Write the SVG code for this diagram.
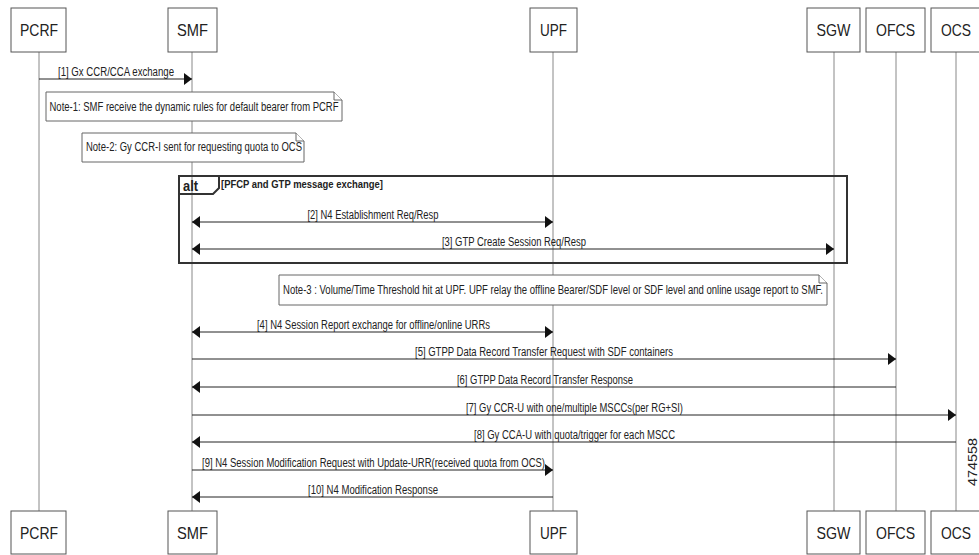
<svg xmlns="http://www.w3.org/2000/svg" width="979" height="555" viewBox="0 0 979 555">
<style>
.box{fill:#fff;stroke:#555;stroke-width:1}
.life{stroke:#888;stroke-width:1}
.hdr{font-family:"Liberation Sans Narrow","Liberation Sans",Arial,sans-serif;font-size:17px;fill:#222;text-anchor:middle}
.lbl{font-family:"Liberation Sans Narrow","Liberation Sans",Arial,sans-serif;font-size:12px;fill:#222;text-anchor:middle}
.note{fill:#fff;stroke:#666;stroke-width:1}
.msg{stroke:#222;stroke-width:1;fill:none}
.alt{fill:none;stroke:#333;stroke-width:2}
.altt{font-family:"Liberation Sans Narrow","Liberation Sans",Arial,sans-serif;font-weight:bold;fill:#222}
</style>
<defs>
<marker id="ah" markerUnits="userSpaceOnUse" markerWidth="8" markerHeight="12" refX="8" refY="6" orient="auto-start-reverse">
<path d="M0,0 L8,6 L0,12 z" fill="#111"/>
</marker>
</defs>
<rect width="979" height="555" fill="#fff"/>

<g id="lifelines">
<line class="life" x1="39" y1="52" x2="39" y2="511"/>
<line class="life" x1="192" y1="52" x2="192" y2="511"/>
<line class="life" x1="553" y1="52" x2="553" y2="511"/>
<line class="life" x1="834" y1="52" x2="834" y2="511"/>
<line class="life" x1="896" y1="52" x2="896" y2="511"/>
<line class="life" x1="956" y1="52" x2="956" y2="511"/>
</g>

<g id="PCRF">
<rect class="box" x="11" y="8" width="55" height="44"/><text class="hdr" x="39" y="36" textLength="38" lengthAdjust="spacingAndGlyphs">PCRF</text>
<rect class="box" x="11" y="511" width="55" height="43"/><text class="hdr" x="39" y="539" textLength="38" lengthAdjust="spacingAndGlyphs">PCRF</text>
</g>
<g id="SMF">
<rect class="box" x="168" y="8" width="49" height="44"/><text class="hdr" x="192.5" y="36" textLength="31" lengthAdjust="spacingAndGlyphs">SMF</text>
<rect class="box" x="168" y="511" width="49" height="43"/><text class="hdr" x="192.5" y="539" textLength="31" lengthAdjust="spacingAndGlyphs">SMF</text>
</g>
<g id="UPF">
<rect class="box" x="530" y="8" width="47" height="44"/><text class="hdr" x="553.5" y="36" textLength="27" lengthAdjust="spacingAndGlyphs">UPF</text>
<rect class="box" x="530" y="511" width="47" height="43"/><text class="hdr" x="553.5" y="539" textLength="27" lengthAdjust="spacingAndGlyphs">UPF</text>
</g>
<g id="SGW">
<rect class="box" x="807" y="8" width="53" height="44"/><text class="hdr" x="833.5" y="36" textLength="34" lengthAdjust="spacingAndGlyphs">SGW</text>
<rect class="box" x="807" y="511" width="53" height="43"/><text class="hdr" x="833.5" y="539" textLength="34" lengthAdjust="spacingAndGlyphs">SGW</text>
</g>
<g id="OFCS">
<rect class="box" x="866" y="8" width="59" height="44"/><text class="hdr" x="895.5" y="36" textLength="39" lengthAdjust="spacingAndGlyphs">OFCS</text>
<rect class="box" x="866" y="511" width="59" height="43"/><text class="hdr" x="895.5" y="539" textLength="39" lengthAdjust="spacingAndGlyphs">OFCS</text>
</g>
<g id="OCS">
<rect class="box" x="931" y="8" width="50" height="44"/><text class="hdr" x="956" y="36" textLength="30" lengthAdjust="spacingAndGlyphs">OCS</text>
<rect class="box" x="931" y="511" width="50" height="43"/><text class="hdr" x="956" y="539" textLength="30" lengthAdjust="spacingAndGlyphs">OCS</text>
</g>

<g id="note1">
<path class="note" d="M46,92 H334 L342,100 V121 H46 Z"/><path class="note" d="M334,92 V100 H342" fill="none"/>
<text class="lbl" x="194" y="111" textLength="289" lengthAdjust="spacingAndGlyphs">Note-1: SMF receive the dynamic rules for default bearer from PCRF</text>
</g>
<g id="note2">
<path class="note" d="M82,133 H296 L304,141 V162 H82 Z"/><path class="note" d="M296,133 V141 H304" fill="none"/>
<text class="lbl" x="194" y="151" textLength="216" lengthAdjust="spacingAndGlyphs">Note-2: Gy CCR-I sent for requesting quota to OCS</text>
</g>
<g id="note3">
<path class="note" d="M279,275 H819 L827,283 V305 H279 Z"/><path class="note" d="M819,275 V283 H827" fill="none"/>
<text class="lbl" x="553" y="294" textLength="540" lengthAdjust="spacingAndGlyphs">Note-3 : Volume/Time Threshold hit at UPF. UPF relay the offline Bearer/SDF level or SDF level and online usage report to SMF.</text>
</g>

<g id="alt">
<rect class="alt" x="179" y="176" width="668" height="87"/>
<path class="alt" d="M219,176 V188 L213,194 H179"/>
<text class="altt" x="183" y="191" font-size="15" textLength="15" lengthAdjust="spacingAndGlyphs">alt</text>
<text class="altt" x="221" y="188" font-size="11.5" textLength="162" lengthAdjust="spacingAndGlyphs">[PFCP and GTP message exchange]</text>
</g>

<g id="connectors">
<line class="msg" x1="39" y1="79" x2="192" y2="79" marker-end="url(#ah)"/>
<line class="msg" x1="192" y1="222" x2="553" y2="222" marker-start="url(#ah)" marker-end="url(#ah)"/>
<line class="msg" x1="192" y1="249" x2="834" y2="249" marker-start="url(#ah)" marker-end="url(#ah)"/>
<line class="msg" x1="192" y1="332" x2="553" y2="332" marker-start="url(#ah)" marker-end="url(#ah)"/>
<line class="msg" x1="192" y1="359" x2="896" y2="359" marker-end="url(#ah)"/>
<line class="msg" x1="896" y1="387" x2="192" y2="387" marker-end="url(#ah)"/>
<line class="msg" x1="192" y1="415" x2="956" y2="415" marker-end="url(#ah)"/>
<line class="msg" x1="956" y1="442" x2="192" y2="442" marker-end="url(#ah)"/>
<line class="msg" x1="192" y1="470" x2="553" y2="470" marker-end="url(#ah)"/>
<line class="msg" x1="553" y1="497" x2="192" y2="497" marker-end="url(#ah)"/>
<text class="lbl" x="116" y="76" textLength="116" lengthAdjust="spacingAndGlyphs">[1] Gx CCR/CCA exchange</text>
<text class="lbl" x="373" y="219" textLength="131" lengthAdjust="spacingAndGlyphs">[2] N4 Establishment Req/Resp</text>
<text class="lbl" x="514" y="246" textLength="144" lengthAdjust="spacingAndGlyphs">[3] GTP Create Session Req/Resp</text>
<text class="lbl" x="373.5" y="329" textLength="233" lengthAdjust="spacingAndGlyphs">[4] N4 Session Report exchange for offline/online URRs</text>
<text class="lbl" x="544" y="356" textLength="258" lengthAdjust="spacingAndGlyphs">[5] GTPP Data Record Transfer Request with SDF containers</text>
<text class="lbl" x="545" y="384" textLength="176" lengthAdjust="spacingAndGlyphs">[6] GTPP Data Record Transfer Response</text>
<text class="lbl" x="574.5" y="412" textLength="217" lengthAdjust="spacingAndGlyphs">[7] Gy CCR-U with one/multiple MSCCs(per RG+SI)</text>
<text class="lbl" x="574.5" y="439" textLength="201" lengthAdjust="spacingAndGlyphs">[8] Gy CCA-U with quota/trigger for each MSCC</text>
<text class="lbl" x="373.5" y="467" textLength="343" lengthAdjust="spacingAndGlyphs">[9] N4 Session Modification Request with Update-URR(received quota from OCS)</text>
<text class="lbl" x="373" y="494" textLength="130" lengthAdjust="spacingAndGlyphs">[10] N4 Modification Response</text>
</g>

<text transform="translate(977,462) rotate(-90)" font-family="Liberation Sans, Arial, sans-serif" font-size="12" fill="#222" text-anchor="middle" textLength="48" lengthAdjust="spacingAndGlyphs">474558</text>
</svg>
